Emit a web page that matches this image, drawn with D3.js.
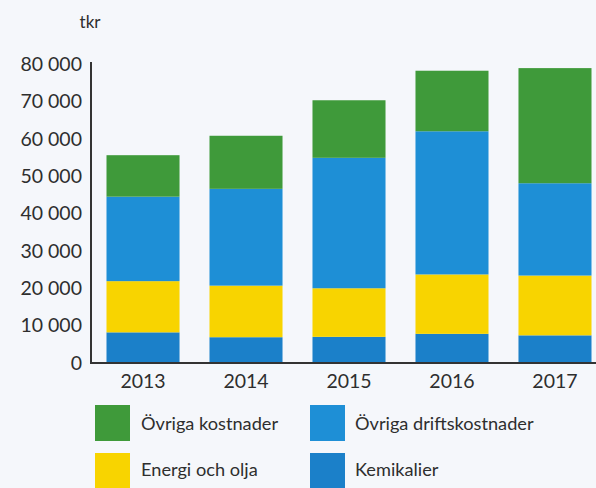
<!DOCTYPE html>
<html><head><meta charset="utf-8">
<script src="https://cdn.jsdelivr.net/npm/d3@7"></script>
<style>
html,body{margin:0;padding:0;background:#f5f7fb;}
svg{display:block;}
text{font-family:Lato,"Open Sans",sans-serif;fill:#2e2e2e;}
</style></head>
<body>
<script>
const years = ["2013","2014","2015","2016","2017"];
const kemikalier = [8200, 6900, 7000, 7800, 7400];
const energi = [13700, 13800, 13000, 15900, 16000];
const ovrigaDrift = [22600, 25900, 34900, 38300, 24700];
const ovrigaKost = [11100, 14200, 15400, 16200, 30800];
const yTicks = [0,10000,20000,30000,40000,50000,60000,70000,80000];
const seriesNames = ["Kemikalier","Energi och olja","Övriga driftskostnader","Övriga kostnader"];
const colors = ["#1b80c9","#f8d400","#1e8fd6","#3f9a3a"];

const W=596,H=488;
const svg=d3.select("body").append("svg").attr("width",W).attr("height",H);
const mLeft=91, mBottom=363, mTop=64;
const y=d3.scaleLinear().domain([0,80000]).range([mBottom,mTop]);
const x=d3.scaleBand().domain(years).range([106.5,591.5]).paddingInner(0.291).paddingOuter(0);

const rows=years.map((yr,i)=>({year:yr,k:kemikalier[i],e:energi[i],d:ovrigaDrift[i],o:ovrigaKost[i]}));
const stack=d3.stack().keys(["k","e","d","o"])(rows);

svg.append("g").selectAll("g").data(stack).join("g").attr("fill",(d,i)=>colors[i])
  .selectAll("rect").data(d=>d).join("rect")
  .attr("x",d=>x(d.data.year)).attr("width",x.bandwidth())
  .attr("y",d=>y(d[1])).attr("height",d=>y(d[0])-y(d[1]));

// axes
const yAxis=d3.axisLeft(y).tickValues(yTicks).tickSize(0).tickPadding(9)
  .tickFormat(d=>d3.format(",")(d).replace(/,/g," "));
const gy=svg.append("g").attr("transform",`translate(${mLeft},0)`).call(yAxis);
gy.select(".domain").remove();
gy.selectAll("text").style("font-size","19.5px").attr("fill","#2e2e2e");
svg.append("line").attr("x1",mLeft).attr("x2",mLeft).attr("y1",mTop-2).attr("y2",mBottom+1).attr("stroke","#333").attr("stroke-width",2);
svg.append("line").attr("x1",mLeft-1).attr("x2",W).attr("y1",mBottom).attr("y2",mBottom).attr("stroke","#333").attr("stroke-width",2);

const xAxis=d3.axisBottom(x).tickSize(0).tickPadding(11);
const gx=svg.append("g").attr("transform",`translate(0,${mBottom})`).call(xAxis);
gx.select(".domain").remove();
gx.selectAll("text").style("font-size","19.5px").attr("fill","#2e2e2e");

svg.append("text").attr("x",90).attr("y",28).attr("text-anchor","middle").style("font-size","17px").text("tkr");

// legend
const legend=[{n:seriesNames[3],c:colors[3],x:95,y:405},{n:seriesNames[2],c:colors[2],x:310,y:405},
  {n:seriesNames[1],c:colors[1],x:95,y:453},{n:seriesNames[0],c:colors[0],x:310,y:453}];
const lg=svg.append("g").selectAll("g").data(legend).join("g").attr("transform",d=>`translate(${d.x},${d.y})`);
lg.append("rect").attr("width",35).attr("height",36).attr("fill",d=>d.c);
lg.append("text").attr("x",d=>d.x<200?46:45).attr("y",d=>d.y<440?25:23).style("font-size","18.2px").text(d=>d.n);
</script>
</body></html>
